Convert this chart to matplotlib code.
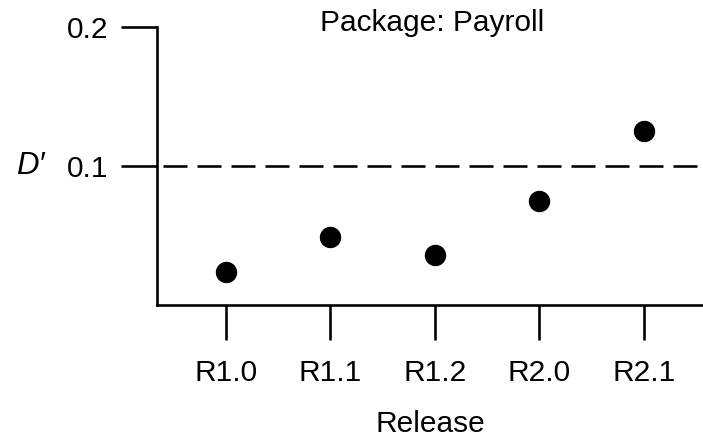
import matplotlib
matplotlib.use("Agg")
import matplotlib.pyplot as plt

releases = ["R1.0", "R1.1", "R1.2", "R2.0", "R2.1"]
d_values = [0.024, 0.049, 0.036, 0.075, 0.125]
threshold = 0.1
y_ticks = [0.1, 0.2]
y_tick_labels = ["0.1", "0.2"]

PX = 72 / 100  # points per pixel at dpi 100
FONT = "Liberation Sans"
FS = 21.5

plt.rcParams["font.family"] = [FONT, "DejaVu Sans"]
plt.rcParams["lines.scale_dashes"] = False

fig = plt.figure(figsize=(7.03, 4.41), dpi=100)
ax = fig.add_axes([157 / 703, 136 / 441, 1 - 157 / 703, (305 - 27) / 441])

lw = 2.6 * PX
x = range(len(releases))
ax.scatter(x, d_values, s=(20 * PX) ** 2, color="black", zorder=3, clip_on=False)
ax.axhline(threshold, color="black", lw=lw,
           linestyle=(28 * PX, (24 * PX, 10 * PX)), dash_capstyle="butt")

ax.set_xlim(-0.66, len(releases) - 1 + 0.565)
ax.set_ylim(0, 0.2)

for side in ["top", "right"]:
    ax.spines[side].set_visible(False)
for side in ["left", "bottom"]:
    ax.spines[side].set_linewidth(lw)

ax.set_xticks(list(x))
ax.set_xticklabels(releases, fontsize=FS)
ax.set_yticks(y_ticks)
ax.set_yticklabels(y_tick_labels, fontsize=FS)
ax.tick_params(axis="x", direction="out", length=35 * PX, width=lw, pad=14)
ax.tick_params(axis="y", direction="out", length=36 * PX, width=lw, pad=9)

ax.set_xlabel("Release", fontsize=FS, labelpad=16)
fig.text(432 / 703, 1 - 23 / 441, "Package: Payroll", fontsize=FS,
         ha="center", va="center")
fig.text(30 / 703, 1 - 166 / 441, "D\u2032", fontsize=FS + 1, style="italic",
         ha="center", va="center")

fig.savefig("out.png", dpi=100)
